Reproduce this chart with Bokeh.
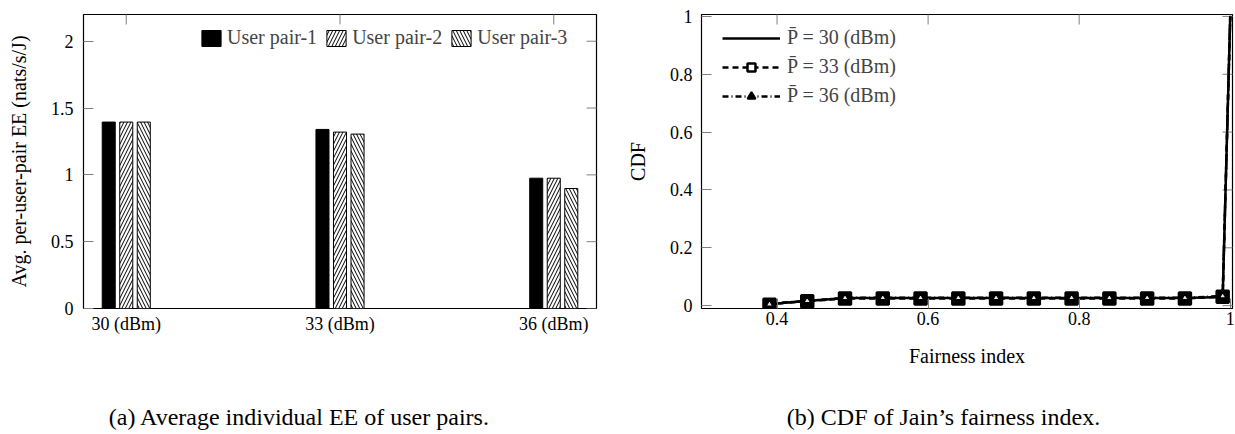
import math
from bokeh.plotting import figure
from bokeh.layouts import row, column
from bokeh.models import (Range1d, FixedTicker, LinearAxis, Legend, LegendItem,
                          ColumnDataSource)
from bokeh.core.properties import value
from bokeh.transform import dodge
from bokeh.embed import file_html
from bokeh.resources import INLINE

# ---------------- data: (a) average per-user-pair EE ----------------
categories = ["30 (dBm)", "33 (dBm)", "36 (dBm)"]
pair1_ee = [1.395, 1.340, 0.975]
pair2_ee = [1.395, 1.320, 0.975]
pair3_ee = [1.395, 1.305, 0.898]
series_names = ["User pair-1", "User pair-2", "User pair-3"]
ee_ticks = [0, 0.5, 1, 1.5, 2]
ee_tick_labels = ["0", "0.5", "1", "1.5", "2"]

# ---------------- data: (b) CDF of Jain's fairness index ----------------
fairness = [0.39, 0.41, 0.44, 0.49, 0.54, 0.59, 0.64, 0.69, 0.74, 0.79,
            0.84, 0.89, 0.94, 0.99, 1.0]
cdf_30 = [0.004, 0.010, 0.016, 0.026, 0.026, 0.026, 0.026, 0.026, 0.026,
          0.026, 0.026, 0.026, 0.026, 0.030, 1.0]
cdf_33 = [0.003, 0.010, 0.015, 0.025, 0.025, 0.025, 0.025, 0.025, 0.025,
          0.025, 0.025, 0.025, 0.025, 0.031, 1.0]
cdf_36 = [0.005, 0.011, 0.017, 0.027, 0.027, 0.027, 0.027, 0.027, 0.027,
          0.027, 0.027, 0.027, 0.027, 0.033, 1.0]
marker_idx = [0, 2, 3, 4, 5, 6, 7, 8, 9, 10, 11, 12, 13]
cdf_labels = ["P\u0304 = 30 (dBm)", "P\u0304 = 33 (dBm)", "P\u0304 = 36 (dBm)"]
cdf_ticks = [0, 0.2, 0.4, 0.6, 0.8, 1]
cdf_tick_labels = ["0", "0.2", "0.4", "0.6", "0.8", "1"]
fair_ticks = [0.4, 0.6, 0.8, 1]
fair_tick_labels = ["0.4", "0.6", "0.8", "1"]

captions = ["(a) Average individual EE of user pairs.",
            "(b) CDF of Jain\u2019s fairness index."]

SERIF = "Liberation Serif"
TICK_COLOR = "#808080"


def style_axis(ax):
    ax.axis_line_color = None
    ax.major_tick_in = 10
    ax.major_tick_out = 0
    ax.minor_tick_line_color = None
    ax.major_tick_line_color = TICK_COLOR
    ax.major_tick_line_width = 1
    ax.major_label_text_font = SERIF
    ax.major_label_text_font_size = "18px"
    ax.major_label_text_color = "black"
    ax.axis_label_text_font = SERIF
    ax.axis_label_text_font_size = "20px"
    ax.axis_label_text_font_style = "normal"
    ax.axis_label_text_color = "black"


def mirror_ticks(p, xticks, yticks):
    # inward tick marks on the top and right edges of the frame (half of each
    # dash marker is clipped away by the frame)
    p.scatter(x=xticks, y=[p.y_range.end] * len(xticks), marker="dash", size=20,
              angle=math.pi / 2, line_color=TICK_COLOR, line_width=1)
    p.scatter(x=[p.x_range.end] * len(yticks), y=yticks, marker="dash", size=20,
              line_color=TICK_COLOR, line_width=1)


def caption_fig(width, text, cx):
    c = figure(width=width, height=40, output_backend="svg", toolbar_location=None,
               x_range=Range1d(0, width), y_range=Range1d(0, 40),
               x_axis_type=None, y_axis_type=None,
               min_border_left=0, min_border_right=0, min_border_top=0,
               min_border_bottom=0)
    c.outline_line_color = None
    c.grid.visible = False
    c.text(x=[cx], y=[18], text=[text], text_align="center",
           text_baseline="alphabetic", text_font=value(SERIF),
           text_font_size="24px", text_color="black")
    return c


# ======================= figure (a) =======================
x_pos = list(range(len(categories)))
p1 = figure(width=620, height=394, output_backend="svg", toolbar_location=None,
            x_range=Range1d(-0.2, 2.2), y_range=Range1d(0, 2.2),
            x_axis_type=None, y_axis_type=None,
            min_border_left=83, min_border_right=24, min_border_top=14,
            min_border_bottom=86)
p1.outline_line_color = "black"
p1.outline_line_width = 1.2

ax = LinearAxis(ticker=FixedTicker(ticks=x_pos),
                major_label_overrides={i: c for i, c in zip(x_pos, categories)})
style_axis(ax)
ax.major_tick_in = 0
ax.major_label_standoff = 5
p1.add_layout(ax, "below")
ax = LinearAxis(ticker=FixedTicker(ticks=ee_ticks),
                major_label_overrides=dict(zip(ee_ticks, ee_tick_labels)),
                axis_label="Avg. per-user-pair EE (nats/s/J)")
style_axis(ax)
ax.major_label_standoff = 10
ax.axis_label_standoff = 18
p1.add_layout(ax, "left")
mirror_ticks(p1, x_pos, ee_ticks)

src1 = ColumnDataSource(dict(x=x_pos, s1=pair1_ee, s2=pair2_ee, s3=pair3_ee))
bw = 0.061
r1 = p1.vbar(x=dodge("x", -0.082, range=p1.x_range), top="s1", width=bw, source=src1,
             fill_color="black", line_color="black", line_width=1)
r2 = p1.vbar(x=dodge("x", 0.0, range=p1.x_range), top="s2", width=bw, source=src1,
             fill_color="white", line_color="black", line_width=1,
             hatch_pattern="/", hatch_color="black", hatch_scale=7, hatch_weight=1)
r3 = p1.vbar(x=dodge("x", 0.082, range=p1.x_range), top="s3", width=bw, source=src1,
             fill_color="white", line_color="black", line_width=1,
             hatch_pattern="\\", hatch_color="black", hatch_scale=7, hatch_weight=1)

leg1 = Legend(items=[LegendItem(label=n, renderers=[r]) for n, r in
                     zip(series_names, [r1, r2, r3])],
              orientation="horizontal", location=(116, 259), padding=0, margin=0,
              spacing=7, label_standoff=4, glyph_width=24, glyph_height=20,
              border_line_color=None, background_fill_alpha=0,
              label_text_font=SERIF, label_text_font_size="20px")
p1.add_layout(leg1)

# ======================= figure (b) =======================
p2 = figure(width=615, height=394, output_backend="svg", toolbar_location=None,
            x_range=Range1d(0.3, 1.003), y_range=Range1d(-0.0099, 1.0066),
            x_axis_type=None, y_axis_type=None,
            min_border_left=81, min_border_right=3, min_border_top=9,
            min_border_bottom=78)
p2.outline_line_color = "black"
p2.outline_line_width = 1.2

ax = LinearAxis(ticker=FixedTicker(ticks=fair_ticks),
                major_label_overrides=dict(zip(fair_ticks, fair_tick_labels)),
                axis_label="Fairness index")
style_axis(ax)
ax.major_label_standoff = 3
ax.axis_label_standoff = 17
p2.add_layout(ax, "below")
ax = LinearAxis(ticker=FixedTicker(ticks=cdf_ticks),
                major_label_overrides=dict(zip(cdf_ticks, cdf_tick_labels)),
                axis_label="CDF")
style_axis(ax)
ax.major_label_standoff = 9
ax.axis_label_standoff = 18
p2.add_layout(ax, "left")
mirror_ticks(p2, fair_ticks, cdf_ticks)

src2 = ColumnDataSource(dict(x=fairness, c30=cdf_30, c33=cdf_33, c36=cdf_36))
mk = ColumnDataSource(dict(x=[fairness[i] for i in marker_idx],
                           c33=[cdf_33[i] for i in marker_idx],
                           c36=[cdf_36[i] for i in marker_idx]))
l30 = p2.line("x", "c30", source=src2, line_color="black", line_width=2.5)
l33 = p2.line("x", "c33", source=src2, line_color="black", line_width=2.5,
              line_dash="6 4")
p2.scatter("x", "c33", source=mk, marker="square", size=12,
           fill_color="black", line_color="black", line_width=2.5)
l36 = p2.line("x", "c36", source=src2, line_color="black", line_width=2.5,
              line_dash="6 3 1 3")
p2.scatter("x", "c36", source=mk, marker="triangle", size=7,
           fill_color="#e6e6e6", line_color="black", line_width=1.5)

# legend key glyphs (hollow square / solid triangle as in the reference legend);
# a single NaN point so nothing is drawn in the plot area
key_src = ColumnDataSource(dict(x=[float("nan")], y=[float("nan")]))
k33 = p2.scatter("x", "y", source=key_src, marker="square", size=11,
                 fill_color="white", line_color="black", line_width=2.5)
k36 = p2.scatter("x", "y", source=key_src, marker="triangle", size=11,
                 fill_color="black", line_color="black", line_width=2)

leg2 = Legend(items=[LegendItem(label=cdf_labels[0], renderers=[l30]),
                     LegendItem(label=cdf_labels[1], renderers=[l33, k33]),
                     LegendItem(label=cdf_labels[2], renderers=[l36, k36])],
              location=(21, 201), padding=0, margin=0, spacing=6,
              label_standoff=7, glyph_width=58, glyph_height=20,
              border_line_color=None, background_fill_alpha=0,
              label_text_font=SERIF, label_text_font_size="20px")
p2.add_layout(leg2)

c1 = caption_fig(620, captions[0], 299)
c2 = caption_fig(615, captions[1], 323)

layout = column(row(p1, p2, spacing=0), row(c1, c2, spacing=0), spacing=0)
open("out.html", "w").write(file_html(layout, INLINE))
